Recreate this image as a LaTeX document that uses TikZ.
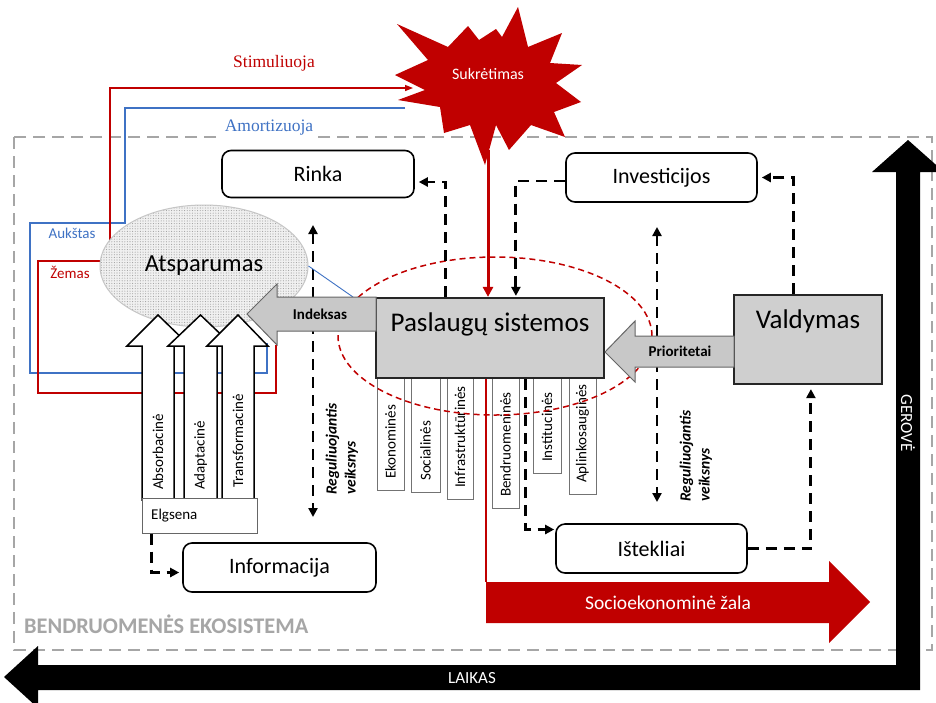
\documentclass[tikz,border=0pt]{standalone}
\usepackage{fontspec}
\setmainfont{Carlito}
\newfontfamily\serifrm{Liberation Serif}
\usetikzlibrary{arrows.meta,shapes.geometric,patterns.meta,calc}
\definecolor{shockred}{HTML}{C00000}
\definecolor{linkblue}{HTML}{3F72C4}
\definecolor{boxfill}{HTML}{CFCFCF}
\definecolor{arrowfill}{HTML}{C8C8C8}
\definecolor{framegray}{HTML}{A6A6A6}
\newcommand{\fsz}[2]{\fontsize{#1}{#2}\selectfont}
\begin{document}
\begin{tikzpicture}[x=1pt,y=-1pt,
  roundbox/.style={draw=black, line width=1.6pt, rounded corners=9pt, fill=white, inner sep=0pt, font=\fsz{22}{26}},
  graybox/.style={draw=black!85, line width=2.2pt, fill=boxfill, inner sep=0pt},
  stripbox/.style={draw=black!55, line width=0.8pt, fill=white, anchor=north, inner sep=0pt},
  striptext/.style={rotate=90, anchor=west, inner sep=0pt, font=\fsz{15}{18}},
  flow/.style={line width=2.9pt, dash pattern=on 11pt off 7pt, -{Triangle[length=9pt,width=9pt]}},
  flowboth/.style={flow, {Triangle[length=9pt,width=9pt]}-{Triangle[length=9pt,width=9pt]}},
  bigarrow/.style={draw=black!60, line width=1pt, fill=arrowfill},
  uparrow/.style={draw=black, line width=1.5pt, fill=white, line join=miter},
  reglabel/.style={rotate=90, anchor=west, align=left, inner sep=0pt, font=\bfseries\itshape\fsz{15.5}{19}},
]
\useasboundingbox (0,0) rectangle (936,702);
\fill[white] (0,0) rectangle (936,702);

% community ecosystem frame
\draw[framegray, line width=1.3pt, dash pattern=on 12pt off 7pt] (14,137) rectangle (932,650);
\node[anchor=west, text=framegray, font=\bfseries\fsz{22.3}{25}, inner sep=0pt] (eco) at (24,624) {BENDRUOMENĖS EKOSISTEMA};

% feedback lines from resilience to the shock
\draw[linkblue, line width=1.4pt] (405,108) -- (125,108) -- (125,223) -- (30,223) -- (30,373) -- (267,373) -- (267,343);
\draw[shockred, line width=1.4pt, -{Triangle[length=8pt,width=6pt]}] (276,345) -- (276,393) -- (38,393) -- (38,261) -- (110,261) -- (110,88) -- (413,88);
\node[text=shockred, font=\serifrm\fsz{17.5}{20}] (stim) at (274,63) {Stimuliuoja};
\node[fill=white, text=linkblue, font=\serifrm\fsz{17.5}{20}, inner sep=3pt] (amort) at (269,128) {Amortizuoja};
\node[text=linkblue, font=\fsz{15}{18}] (high) at (72,233) {Aukštas};
\node[text=shockred, font=\fsz{15}{18}] (low) at (70,272) {Žemas};

% shock
\fill[shockred] (397,24) -- (448,47) -- (468,26) -- (479,40) -- (496,29) -- (502,37) -- (518,7) -- (528,47)
  -- (562,33) -- (550,63) -- (582,65) -- (556,83) -- (581,102) -- (554,112) -- (565,137) -- (531,125)
  -- (509,150) -- (496,125) -- (485,165) -- (470,125) -- (444,133) -- (440,107) -- (398,100) -- (425,90)
  -- (395,75) -- (428,60) -- cycle;
\node[text=white, font=\fsz{16}{19}] (shock) at (488,74) {Sukrėtimas};
\coordinate (shockbase) at (488,150);

% resilience
\node[ellipse, draw=gray!45, line width=1pt, minimum width=208pt, minimum height=122pt, inner sep=0pt,
  preaction={fill=gray!12}, pattern={Dots[distance=2.6pt, radius=0.55pt]}, pattern color=gray!75,
  font=\fsz{24.5}{28}] (atsp) at (204,266) {Atsparumas};

% service systems and their sectors
\foreach \k/\xa/\xb/\yb/\t in {1/377/404/490/Ekonominės, 2/411/440/492/Socialinės,
    3/447/473/499/Infrastruktūrinės, 4/492/519/508/Bendruomeninės,
    5/533/561/473/Institucinės, 6/569/596/494/Aplinkosauginės}{
  \node[stripbox, minimum width={(\xb-\xa)*1pt}, minimum height={(\yb-378)*1pt}] (strip\k) at ({(\xa+\xb)/2},378) {};
  \node[striptext] (striplabel\k) at ({(\xa+\xb)/2},{\yb-11}) {\t};
}
\node[graybox, minimum width=228pt, minimum height=80pt] (pasl) at (490,338) {};
\node[font=\fsz{27}{30}] (pasltext) at (490,324) {Paslaugų sistemos};

% affected zone
\node[ellipse, draw=shockred, line width=1.5pt, dash pattern=on 6pt off 4pt, minimum width=314pt, minimum height=158pt, inner sep=0pt] (zone) at (495,336) {};

% regulating factors
\coordinate (regLtop) at (313,225);
\coordinate (regLbot) at (313,517);
\draw[flowboth] (regLtop) -- (regLbot);
\node[reglabel] (regLlabel) at (342,495) {Reguliuojantis\\veiksnys};
\coordinate (regRtop) at (657,227);
\coordinate (regRbot) at (657,502);
\draw[flowboth] (regRtop) -- (regRbot);
\node[reglabel] (regRlabel) at (696,502) {Reguliuojantis\\veiksnys};

% indexation arrow
\draw[linkblue, line width=0.9pt] (atsp.east) -- (353,297);
\filldraw[bigarrow] (376,297) -- (277,297) -- (277,284) -- (247,314) -- (277,345) -- (277,331) -- (376,331) -- cycle;
\node[font=\bfseries\fsz{15}{18}] (idx) at (320,314) {Indeksas};

% behaviour arrows
\draw[uparrow] (142,500) -- (142,346) -- (127,346) -- (158,315) -- (190,346) -- (174,346) -- (174,500) -- cycle;
\draw[uparrow] (184,500) -- (184,346) -- (168,346) -- (200.5,315) -- (233,346) -- (217,346) -- (217,500) -- cycle;
\draw[uparrow] (222,500) -- (222,346) -- (207,346) -- (238,315) -- (268,346) -- (254,346) -- (254,500) -- cycle;
\node[striptext] (absorb) at (158,490) {Absorbacinė};
\node[striptext] (adapt) at (200.5,490) {Adaptacinė};
\node[striptext] (transf) at (238,488) {Transformacinė};
\node[draw=black!60, line width=1pt, fill=white, minimum width=115pt, minimum height=35pt, inner sep=0pt] (elg) at (199.5,515.5) {};
\node[anchor=west, font=\fsz{15}{18}, inner sep=0pt] (elgtext) at (151,516) {Elgsena};

% other boxes
\node[roundbox, minimum width=192pt, minimum height=47pt] (rinka) at (318,174) {Rinka};
\node[roundbox, minimum width=191pt, minimum height=49pt] (invest) at (661.5,177.5) {Investicijos};
\node[roundbox, minimum width=191pt, minimum height=49pt] (istek) at (651.5,548.5) {Ištekliai};
\node[roundbox, minimum width=193pt, minimum height=49pt] (info) at (279.5,567.5) {Informacija};
\node[graybox, minimum width=148pt, minimum height=89pt] (vald) at (808,339.5) {};
\node[font=\fsz{27}{30}] (valdtext) at (808,321) {Valdymas};

% priorities arrow
\filldraw[bigarrow] (734,336) -- (635,336) -- (635,321) -- (605,352) -- (635,382) -- (635,367) -- (734,367) -- cycle;
\node[font=\bfseries\fsz{15}{18}] (prio) at (680,351) {Prioritetai};

% dashed flows
\draw[flow] ($(pasl.north west)+(71,0)$) |- ($(rinka.east)+(4,8)$);
\draw[flow] ($(invest.west)+(0,3.5)$) -| ($(pasl.north west)+(141,-1)$);
\draw[flow] ($(vald.north west)+(61,0)$) |- ($(invest.east)+(4,0)$);
\draw[flow] ($(pasl.south west)+(151,0)$) |- ($(istek.west)+(-1,-19)$);
\draw[flow] (istek.east) -| ($(vald.south west)+(78,4)$);
\draw[flow] ($(elg.south west)+(10,0)$) |- ($(info.west)+(-3,5)$);

% shock impact and socio-economic damage
\draw[shockred, line width=3pt, -{Triangle[length=10pt,width=10pt]}] (shockbase) -- (shockbase |- pasl.north);
\coordinate (harmstart) at (486,582);
\draw[shockred, line width=2.5pt] (harmstart |- pasl.south) -- (harmstart);
\fill[shockred] (486,582) -- (829,582) -- (829,561) -- (870,602) -- (829,643) -- (829,623) -- (486,623) -- cycle;
\node[text=white, font=\fsz{19.5}{22}] (harm) at (668,603) {Socioekonominė žala};

% axes: time and welfare
\fill[black] (4,677) -- (38,646) -- (38,665) -- (896,665) -- (896,172) -- (872,172) -- (908,140) -- (944,172)
  -- (920,172) -- (920,690) -- (38,690) -- (38,708) -- cycle;
\node[text=white, font=\fsz{17}{19}] (laikas) at (472,678) {LAIKAS};
\node[text=white, rotate=-90, font=\fsz{17}{19}] (gerove) at (908,423) {GEROVĖ};
\end{tikzpicture}
\end{document}
